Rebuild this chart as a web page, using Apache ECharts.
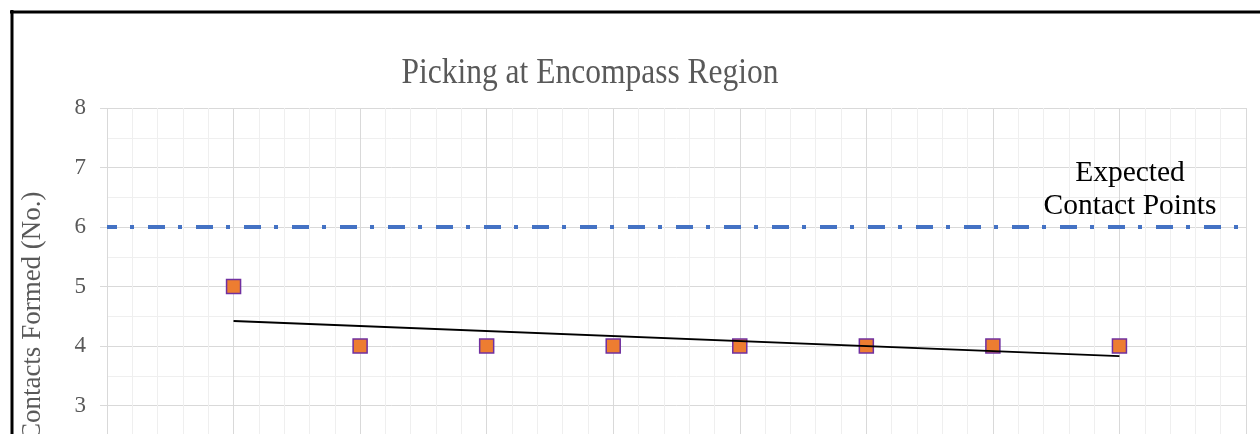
<!DOCTYPE html>
<html>
<head>
<meta charset="utf-8">
<title>Picking at Encompass Region</title>
<script src="https://cdn.jsdelivr.net/npm/echarts@6/dist/echarts.min.js"></script>
<style>
	html, body { margin: 0; padding: 0; background: #fff; overflow: hidden; }
	/* the reference is cropped: the plot runs on below the window */
	#chart { width: 1260px; height: 540px; }
</style>
</head>
<body>
<div id="chart"></div>
<script>
	// values
	const trialNo = [1, 2, 3, 4, 5, 6, 7, 8];
	const contactsFormed = [5, 4, 4, 4, 4, 4, 4, 4];
	const trendX = [1, 8];
	const trendY = [4.42, 3.83];
	const expectedX = [0, 9];
	const expectedY = [6, 6];

	const serif = 'Liberation Serif, Times New Roman, serif';
	const grey = '#595959';

	function pairs(xs, ys) {
		return xs.map((x, i) => [x, ys[i]]);
	}

	var myChart = echarts.init(document.getElementById('chart'));
	var option = {
		backgroundColor: '#fff',
		animation: false,
		grid: {
			left: 107,
			right: 14,
			top: 108,
			bottom: 15.5
		},
		xAxis: {
			type: 'value',
			min: 0,
			max: 9,
			interval: 1,
			axisLine: { show: false },
			axisTick: { show: false },
			axisLabel: { show: false },
			splitLine: { lineStyle: { color: '#d9d9d9', width: 1 } },
			minorTick: { show: false, splitNumber: 5 },
			minorSplitLine: { show: true, lineStyle: { color: '#efefef', width: 1 } }
		},
		yAxis: {
			type: 'value',
			min: 1,
			max: 8,
			interval: 1,
			name: 'Contacts Formed (No.)',
			nameLocation: 'middle',
			nameGap: 61,
			nameTextStyle: { fontFamily: serif, fontSize: 27, color: grey },
			axisLine: { show: false },
			axisTick: { show: true, length: 7, lineStyle: { color: '#d9d9d9' } },
			axisLabel: { fontFamily: serif, fontSize: 23, color: grey, margin: 21 },
			splitLine: { lineStyle: { color: '#d9d9d9', width: 1 } },
			minorTick: { show: false, splitNumber: 2 },
			minorSplitLine: { show: true, lineStyle: { color: '#efefef', width: 1 } }
		},
		graphic: [
			{
				type: 'line',
				shape: { x1: 10, y1: 12, x2: 1260, y2: 12 },
				style: { stroke: '#000', lineWidth: 3 }
			},
			{
				type: 'line',
				shape: { x1: 12, y1: 10, x2: 12, y2: 540 },
				style: { stroke: '#000', lineWidth: 3 }
			},
			{
				type: 'text',
				x: 590,
				y: 56,
				scaleY: 1.12,
				style: {
					text: 'Picking at Encompass Region',
					font: '31.5px ' + serif,
					fill: grey,
					textAlign: 'center',
					textVerticalAlign: 'top'
				}
			},
			{
				type: 'text',
				x: 1130,
				y: 157,
				z: 10,
				style: {
					text: 'Expected\nContact Points',
					font: '29.5px ' + serif,
					lineHeight: 33,
					fill: '#000',
					textAlign: 'center',
					textVerticalAlign: 'top'
				}
			}
		],
		series: [
			{
				name: 'Expected Contact Points',
				type: 'line',
				data: pairs(expectedX, expectedY),
				symbol: 'none',
				lineStyle: {
					color: '#4472C4',
					width: 4,
					type: [17, 13, 4, 14],
					dashOffset: 7,
					cap: 'butt'
				},
				z: 2
			},
			{
				name: 'Contacts Formed',
				type: 'scatter',
				data: pairs(trialNo, contactsFormed),
				symbol: 'rect',
				symbolSize: 14,
				itemStyle: {
					color: '#ED7D31',
					borderColor: '#7030A0',
					borderWidth: 1.5,
					opacity: 1
				},
				z: 3
			},
			{
				name: 'Trend',
				type: 'line',
				data: pairs(trendX, trendY),
				symbol: 'none',
				lineStyle: { color: '#000', width: 1.8 },
				z: 4
			}
		]
	};
	myChart.setOption(option);
</script>
</body>
</html>
